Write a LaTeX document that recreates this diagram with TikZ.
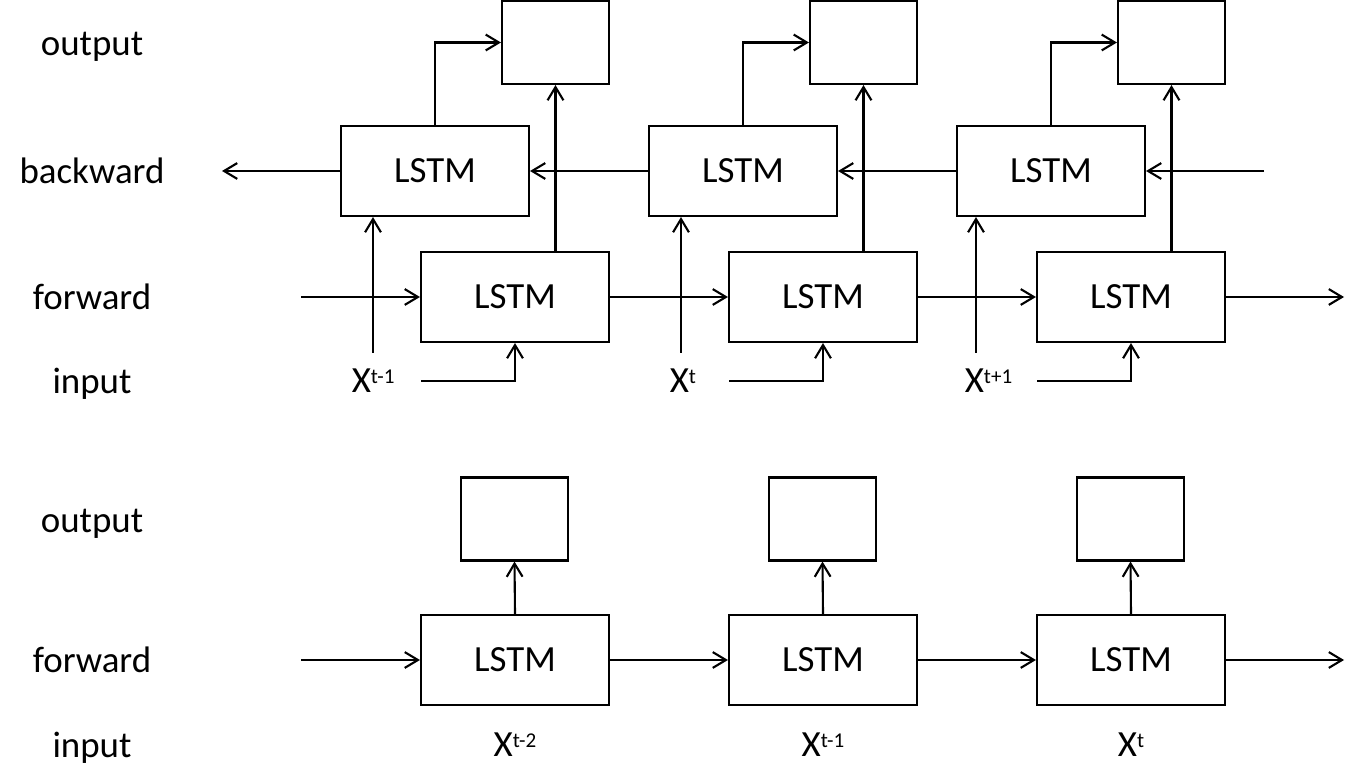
\documentclass[tikz,border=0pt]{standalone}
\usepackage{fontspec}
\setmainfont{Carlito}
\usetikzlibrary{arrows.meta}
\newcommand{\xsup}[1]{X\raisebox{5.5pt}{\fontsize{12}{14}\selectfont #1}}

\begin{document}
\begin{tikzpicture}[x=0.02cm,y=-0.02cm,
    font=\fontsize{21}{25}\selectfont,
    line width=1.2pt,
    >={Straight Barb[length=7.5pt,width=9pt]},
    lstm/.style={draw,minimum width=3.76cm,minimum height=1.8cm,inner sep=0pt},
    outbox/.style={draw,minimum width=2.14cm,minimum height=1.66cm,inner sep=0pt},
    xlab/.style={inner sep=1pt}]
    \useasboundingbox (0,0) rectangle (1345,776);
    % row labels
    \node (tout) at (92,47) {output};
    \node (tbw) at (92,171) {backward};
    \node (tfw) at (92,297) {forward};
    \node (tin) at (92,384) {input};
    \node (bout) at (92,524) {output};
    \node (bfw) at (92,660) {forward};
    \node (bin) at (92,748) {input};
    % bidirectional part
    \foreach \i/\t/\xl/\xx in {0/t-1/349/373,1/t/667/681,2/t+1/962/976}{
        \node[lstm] (fw\i) at (515+308*\i,297) {LSTM};
        \node[lstm] (bw\i) at (435+308*\i,171) {LSTM};
        \node[outbox] (out\i) at (555.5+308*\i,42.5) {};
        \node[xlab,anchor=west] (x\i) at (\xl,381) {\xsup{\t}};
        \coordinate (xup\i) at (\xx,353);
        \coordinate (in\i) at (421+308*\i,381);
        \draw[->] (xup\i) -- (xup\i|-bw\i.south);
        \draw[->] (in\i) -| (fw\i.south);
        \draw[->] (bw\i.north) |- (out\i.west);
        \draw[->] (out\i.south|-fw\i.north) -- (out\i.south);
    }
    \coordinate (fwin) at (301,297);
    \coordinate (fwend) at (1344,297);
    \coordinate (bwin) at (1264,171);
    \coordinate (bwend) at (222,171);
    \draw[->] (fwin) -- (fw0.west);
    \draw[->] (fw2.east) -- (fwend);
    \draw[->] (bwin) -- (bw2.east);
    \draw[->] (bw0.west) -- (bwend);
    \foreach \i/\j in {0/1,1/2}{
        \draw[->] (fw\i.east) -- (fw\j.west);
        \draw[->] (bw\j.west) -- (bw\i.east);
    }
    % unidirectional part
    \foreach \i/\t in {0/t-2,1/t-1,2/t}{
        \node[lstm] (fb\i) at (515+308*\i,660) {LSTM};
        \node[outbox] (ob\i) at (514.5+308*\i,519) {};
        \node[xlab] (xb\i) at (515+308*\i,745) {\xsup{\t}};
        \draw[->] (fb\i.north) -- (ob\i.south);
    }
    \coordinate (fbin) at (301,660);
    \coordinate (fbend) at (1344,660);
    \draw[->] (fbin) -- (fb0.west);
    \draw[->] (fb2.east) -- (fbend);
    \foreach \i/\j in {0/1,1/2}{
        \draw[->] (fb\i.east) -- (fb\j.west);
    }
\end{tikzpicture}
\end{document}
